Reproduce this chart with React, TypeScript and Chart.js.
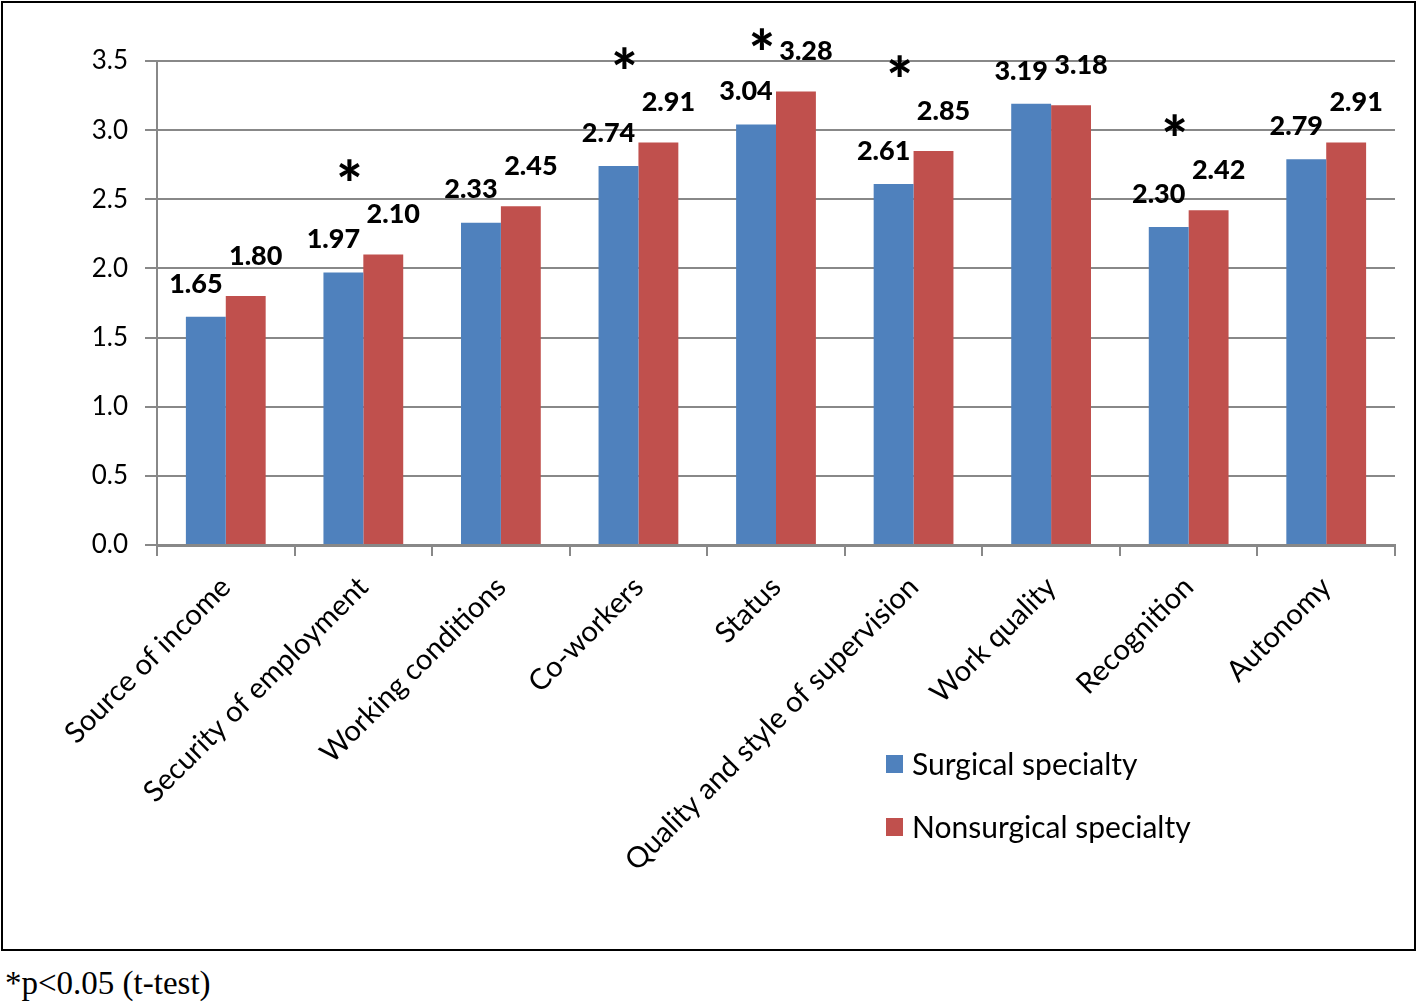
import React, { useEffect, useRef } from "react";
import { Chart, registerables } from "chart.js";

Chart.register(...registerables);

const categories = [
  "Source of income",
  "Security of employment",
  "Working conditions",
  "Co-workers",
  "Status",
  "Quality and style of supervision",
  "Work quality",
  "Recognition",
  "Autonomy",
];
const surgical = [1.65, 1.97, 2.33, 2.74, 3.04, 2.61, 3.19, 2.3, 2.79];
const nonsurgical = [1.8, 2.1, 2.45, 2.91, 3.28, 2.85, 3.18, 2.42, 2.91];
const significant = [false, true, false, true, true, true, false, true, false];
const seriesNames = ["Surgical specialty", "Nonsurgical specialty"];
const yTicks = [0, 0.5, 1, 1.5, 2, 2.5, 3, 3.5];

const BLUE = "#4F81BD";
const RED = "#C0504D";
const GRID = "#888888";
const FONT = "Lato, 'Open Sans', sans-serif";

const overlayPlugin = {
  id: "overlay",
  afterDatasetsDraw(chart: any) {
    const ctx = chart.ctx;
    const m0 = chart.getDatasetMeta(0);
    const m1 = chart.getDatasetMeta(1);
    ctx.save();
    ctx.fillStyle = "#000";
    ctx.textAlign = "center";
    ctx.textBaseline = "middle";
    categories.forEach((_, i) => {
      const b0 = m0.data[i];
      const b1 = m1.data[i];
      const y0 = b0.y - 33;
      const y1 = b1.y - 40;
      ctx.font = `900 27px ${FONT}`;
      ctx.fillText(surgical[i].toFixed(2), b0.x - 10, y0);
      ctx.fillText(nonsurgical[i].toFixed(2), b1.x + 10, y1);
      if (significant[i]) {
        ctx.font = `900 62px ${FONT}`;
        const cx = (b0.x + b1.x) / 2 - 14;
        let ay = Math.min(y0, y1) - 44;
        ay = Math.max(ay, chart.chartArea.top - 21);
        ctx.fillText("*", cx, ay + 16);
      }
    });
    // legend
    const colors = [BLUE, RED];
    ctx.textAlign = "left";
    ctx.font = `30px ${FONT}`;
    seriesNames.forEach((name, i) => {
      const y = 762 + i * 63;
      ctx.fillStyle = colors[i];
      ctx.fillRect(883, y - 10, 17, 18);
      ctx.fillStyle = "#000";
      ctx.fillText(name, 909, y);
    });
    ctx.restore();
  },
};

export default function App() {
  const ref = useRef<HTMLCanvasElement>(null);
  useEffect(() => {
    const canvas = ref.current;
    if (!canvas) return;
    const chart = new Chart(canvas, {
      type: "bar",
      data: {
        labels: categories,
        datasets: [
          {
            label: seriesNames[0],
            data: surgical,
            backgroundColor: BLUE,
            categoryPercentage: 0.58,
            barPercentage: 1,
          },
          {
            label: seriesNames[1],
            data: nonsurgical,
            backgroundColor: RED,
            categoryPercentage: 0.58,
            barPercentage: 1,
          },
        ],
      },
      options: {
        responsive: false,
        animation: false,
        devicePixelRatio: 1,
        layout: { padding: { top: 58, right: 19, left: 0, bottom: 0 } },
        plugins: {
          legend: { display: false },
          tooltip: { enabled: false },
          title: { display: false },
        },
        scales: {
          x: {
            grid: {
              display: true,
              drawOnChartArea: false,
              drawTicks: true,
              tickLength: 11,
              color: GRID,
              lineWidth: 2,
              offset: true,
            },
            border: { display: true, color: GRID, width: 3 },
            ticks: {
              autoSkip: false,
              maxRotation: 45,
              minRotation: 45,
              color: "#000",
              padding: 14,
              font: { family: FONT, size: 29 },
            },
            afterFit: (scale: any) => {
              scale.height = 404;
            },
          },
          y: {
            min: 0,
            max: 3.5,
            afterBuildTicks: (scale: any) => {
              scale.ticks = yTicks.map((v) => ({ value: v }));
            },
            grid: {
              color: GRID,
              lineWidth: 2,
              drawTicks: true,
              tickLength: 12,
            },
            border: { display: true, color: GRID, width: 2 },
            ticks: {
              color: "#000",
              padding: 17,
              font: { family: FONT, size: 26 },
              callback: (v: any) => Number(v).toFixed(1),
            },
            afterFit: (scale: any) => {
              scale.width = 154;
            },
          },
        },
      },
      plugins: [overlayPlugin],
    });
    return () => chart.destroy();
  }, []);

  return (
    <div
      style={{
        position: "absolute",
        left: 0,
        top: 0,
        width: 1418,
        height: 1004,
        background: "#fff",
      }}
    >
      <div
        style={{
          position: "absolute",
          left: 1,
          top: 1,
          width: 1411,
          height: 946,
          border: "2px solid #000",
        }}
      >
        <canvas ref={ref} width={1411} height={946} style={{ display: "block" }} />
      </div>
      <div
        style={{
          position: "absolute",
          left: 5,
          top: 967,
          fontFamily: "'Liberation Serif', 'Times New Roman', serif",
          fontSize: 33,
          lineHeight: "33px",
          color: "#000",
          whiteSpace: "nowrap",
        }}
      >
        *p&lt;0.05 (t-test)
      </div>
    </div>
  );
}
